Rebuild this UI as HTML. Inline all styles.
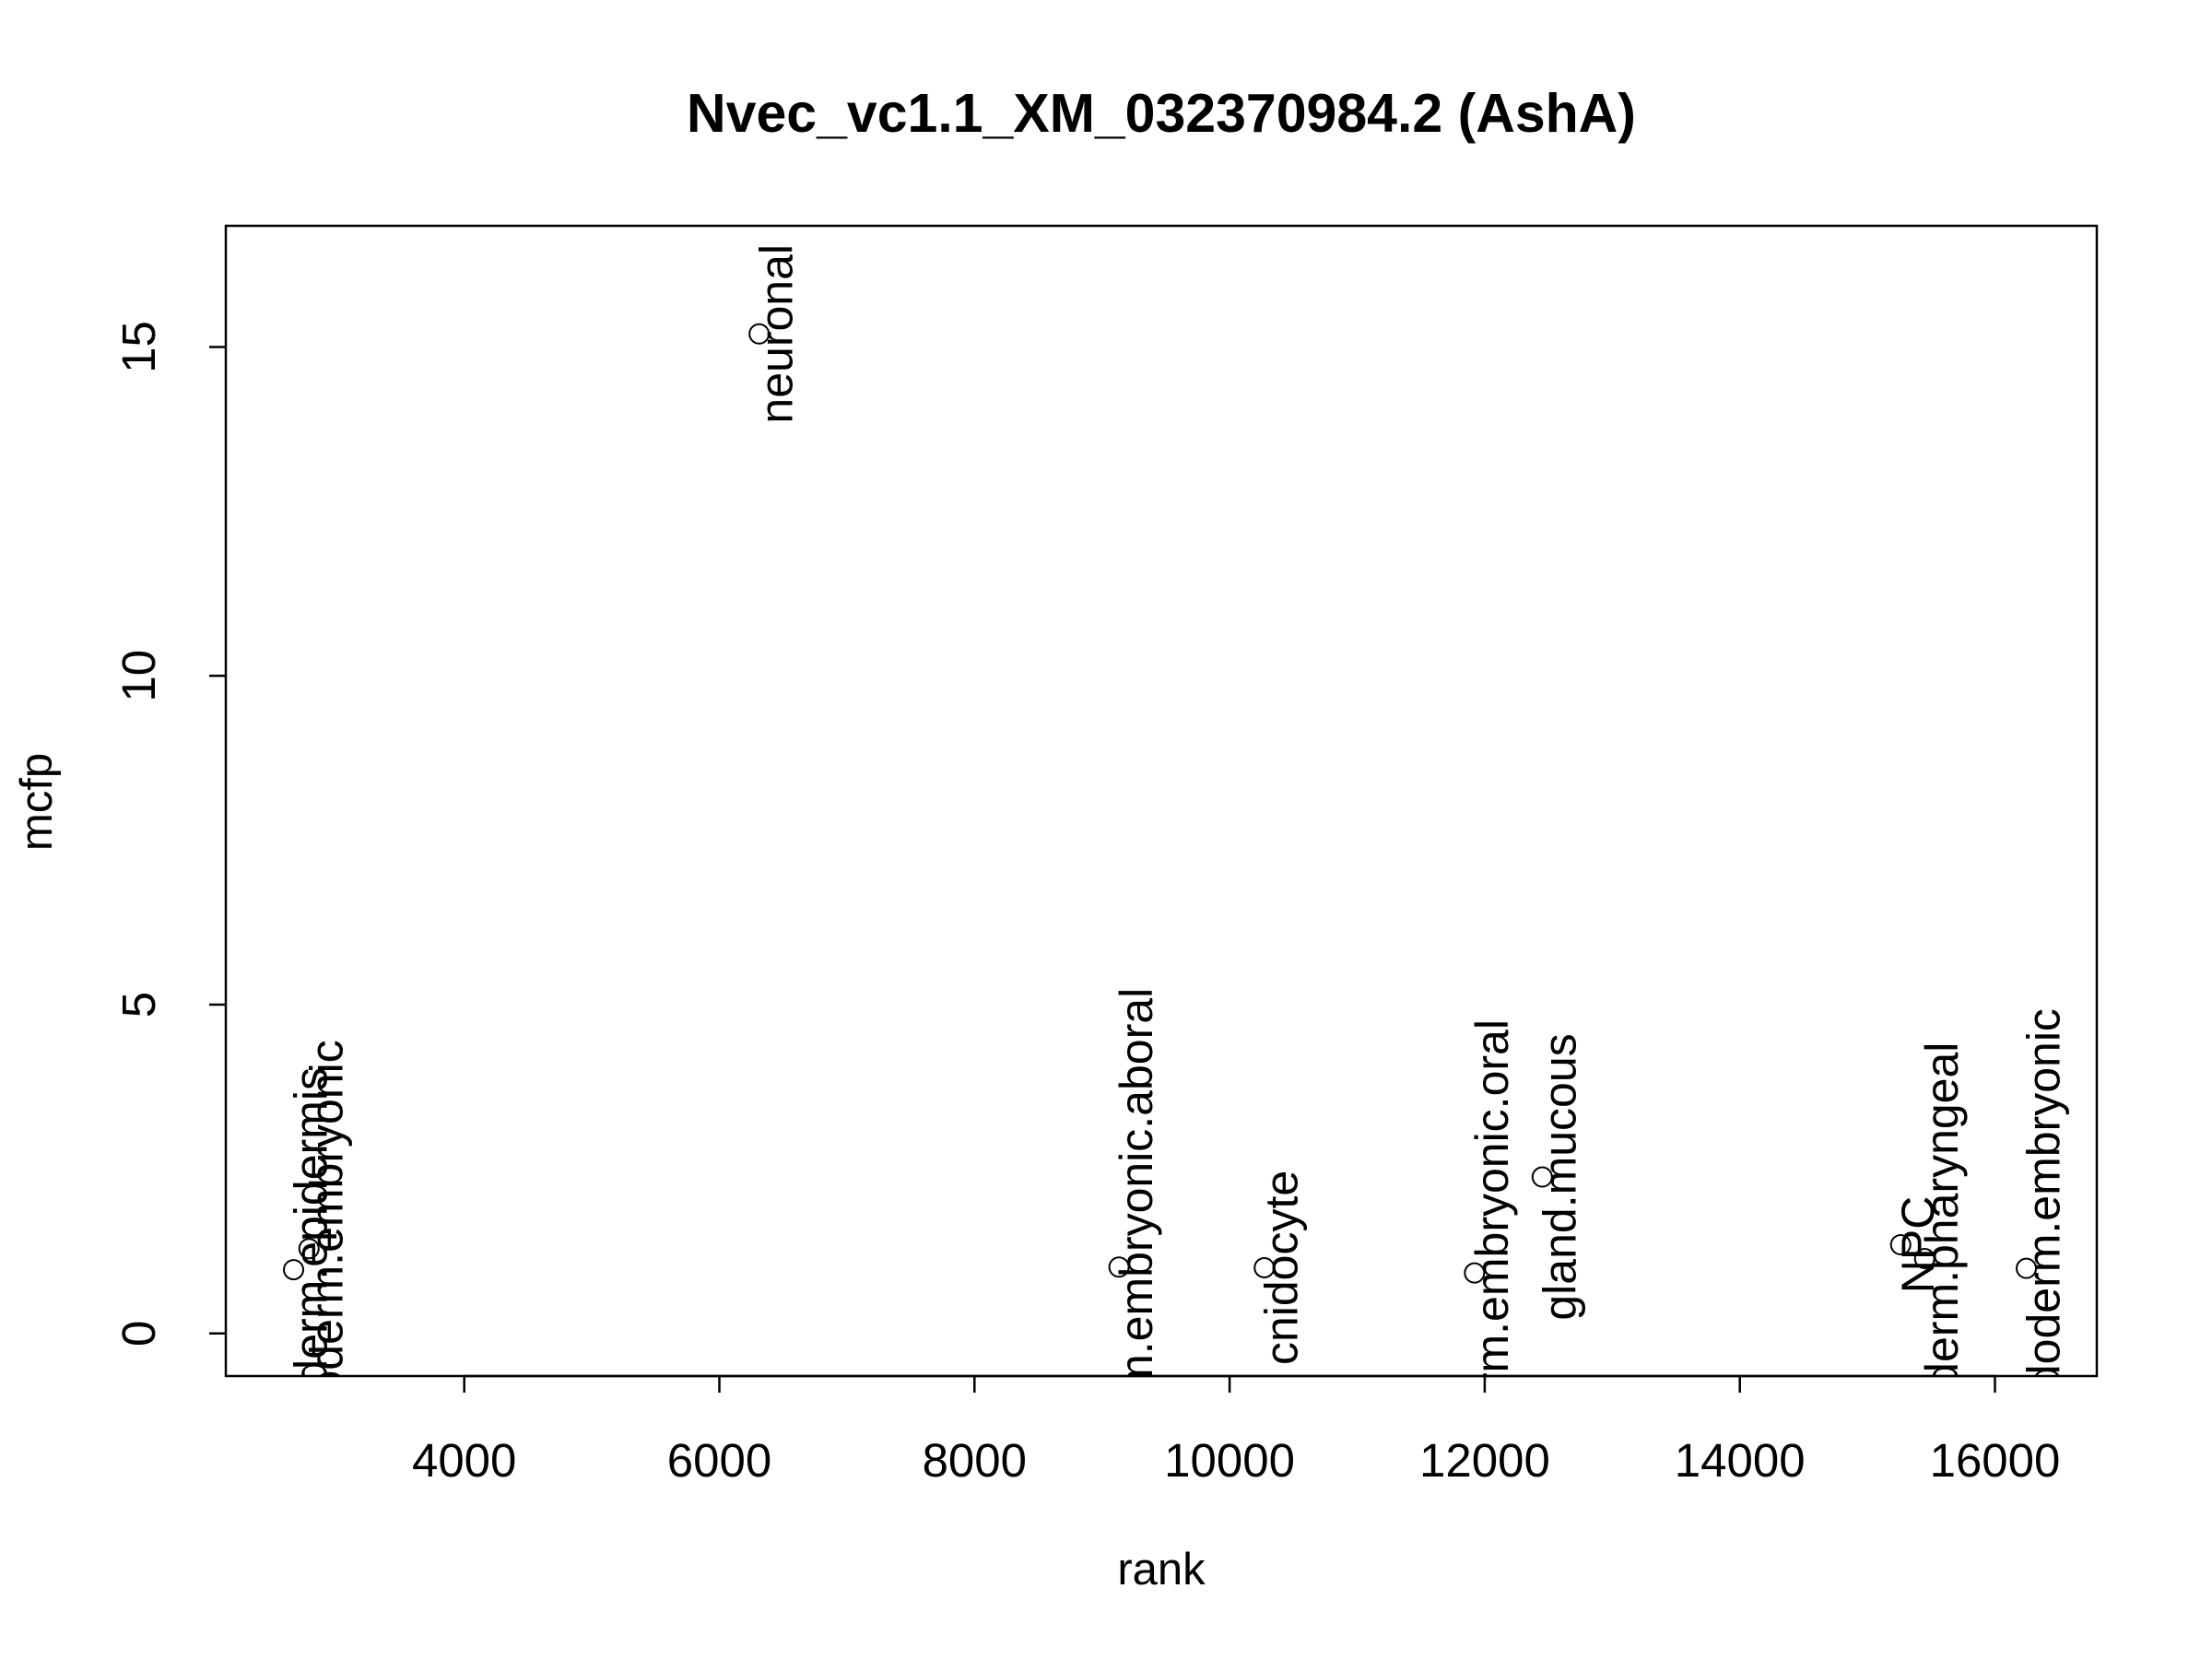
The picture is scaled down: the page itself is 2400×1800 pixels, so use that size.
<!DOCTYPE html>
<html><head><meta charset="utf-8"><style>html,body{margin:0;padding:0;background:#fff}svg{display:block}text{font-family:"Liberation Sans",sans-serif;fill:#000}</style></head>
<body>
<svg id="chart" width="2400" height="1800" viewBox="0 0 2400 1800" xmlns="http://www.w3.org/2000/svg">
<defs><clipPath id="plotclip"><rect x="245" y="245" width="2030" height="1248"/></clipPath></defs>
<text x="1260" y="143" font-size="59" font-weight="bold" text-anchor="middle">Nvec_vc1.1_XM_032370984.2 (AshA)</text>
<text x="1260" y="1719" font-size="49" text-anchor="middle">rank</text>
<text x="0" y="0" font-size="49" text-anchor="middle" transform="translate(56,870) rotate(-90)">mcfp</text>
<rect x="245" y="245" width="2030" height="1248" fill="none" stroke="#000" stroke-width="2.5"/>
<g id="axes"></g>
<g id="marks" clip-path="url(#plotclip)"></g>
</svg>
<script>
const xTicks = [4000, 6000, 8000, 10000, 12000, 14000, 16000];
const yTicks = [0, 5, 10, 15];
const labels = ["ectoderm.epidermis","ectoderm.embryonic","neuronal","ectoderm.embryonic.aboral","cnidocyte","ectoderm.embryonic.oral","gland.mucous","NPC","ectoderm.pharyngeal","ectoendoderm.embryonic"];
const ranks = [2662, 2783, 6312, 9133, 10272, 11920, 12451, 15261, 15449, 16246];
const mcfp = [0.97, 1.29, 15.2, 1.01, 1.0, 0.92, 2.38, 1.35, 1.14, 0.99];

const NS = "http://www.w3.org/2000/svg";
function xs(v){ return 503.7 + (v - 4000) * 0.1384; }
function ys(v){ return 1446.8 - v * 71.35; }
function mk(tag, attrs, parent){ const e = document.createElementNS(NS, tag); for (const k in attrs) e.setAttribute(k, attrs[k]); parent.appendChild(e); return e; }
const axes = document.getElementById('axes');
const marks = document.getElementById('marks');

mk('line', {x1: xs(xTicks[0]), x2: xs(xTicks[xTicks.length-1]), y1: 1493, y2: 1493, stroke: '#000', 'stroke-width': 2.5}, axes);
xTicks.forEach(t => {
  const l = mk('line', {x1: xs(t), x2: xs(t), y1: 1493, y2: 1511, stroke: '#000', 'stroke-width': 2.5}, axes);
  
  
  const tx = mk('text', {x: xs(t), y: 1602, 'font-size': 51, 'text-anchor': 'middle'}, axes);
  tx.textContent = t;
  
  
});
yTicks.forEach(t => {
  const l = mk('line', {x1: 227, x2: 245, y1: ys(t), y2: ys(t), stroke: '#000', 'stroke-width': 2.5}, axes);
  
  
  const tx = mk('text', {x: 0, y: 0, 'font-size': 51, 'text-anchor': 'middle', transform: 'translate(168,' + ys(t) + ') rotate(-90)'}, axes);
  tx.textContent = t;
  
  
});
ranks.forEach((r, i) => {
  const c = mk('circle', {cx: xs(r), cy: ys(mcfp[i]), r: 10.5, fill: 'none', stroke: '#000', 'stroke-width': 2}, marks);
  
  
  const tx = mk('text', {x: 0, y: 0, 'font-size': 50, 'text-anchor': 'middle', transform: 'translate(' + (xs(r) + 36) + ',' + ys(mcfp[i]) + ') rotate(-90)'}, marks);
  tx.textContent = labels[i];
  
  
});
</script>
</body></html>
